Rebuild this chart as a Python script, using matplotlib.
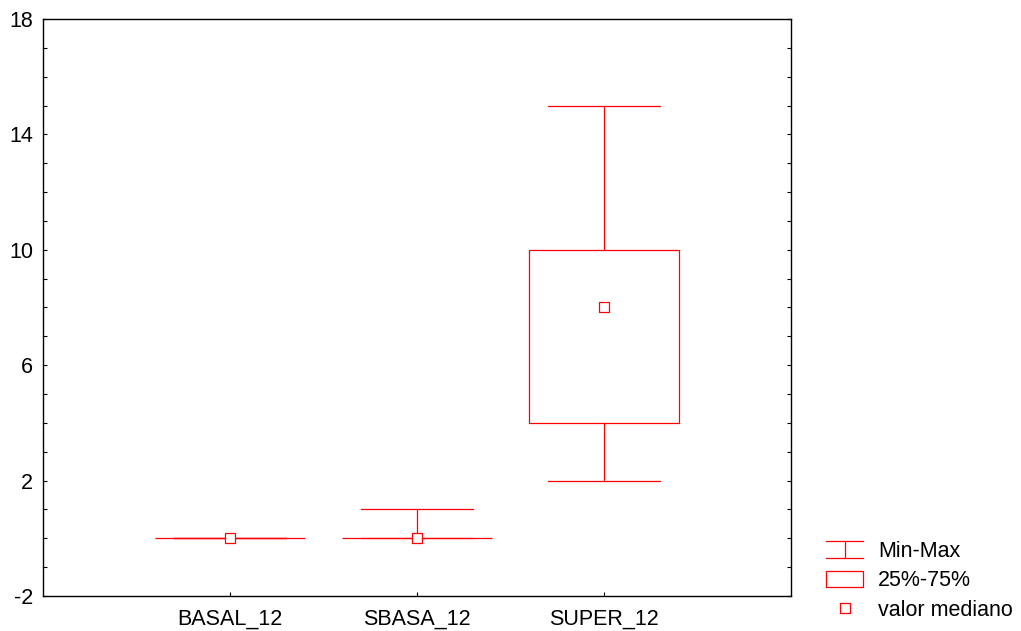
import numpy as np
import matplotlib.pyplot as plt
from matplotlib.legend_handler import HandlerBase
from matplotlib.lines import Line2D
from matplotlib.patches import Rectangle

plt.rcParams['font.family'] = ['Liberation Sans', 'DejaVu Sans']
plt.rcParams['axes.unicode_minus'] = False

# summary stats per variable
names = ["BASAL_12", "SBASA_12", "SUPER_12"]
mins = [0, 0, 2]
q25 = [0, 0, 4]
medians = [0, 0, 8]
q75 = [0, 0, 10]
maxs = [0, 1, 15]

red = "#ff0000"
lw = 0.9
box_w = 0.8
cap_w = 0.6
fs = 15.5

fig = plt.figure(figsize=(10.21, 6.31), dpi=100)
ax = fig.add_axes([43 / 1021, 35 / 631, 748 / 1021, 577 / 631])

x = np.arange(1, len(names) + 1)
for xi, lo, a, m, b, hi in zip(x, mins, q25, medians, q75, maxs):
    # whiskers and caps
    ax.plot([xi, xi], [lo, a], color=red, lw=lw)
    ax.plot([xi, xi], [b, hi], color=red, lw=lw)
    ax.plot([xi - cap_w / 2, xi + cap_w / 2], [lo, lo], color=red, lw=lw)
    ax.plot([xi - cap_w / 2, xi + cap_w / 2], [hi, hi], color=red, lw=lw)
    # box
    ax.add_patch(Rectangle((xi - box_w / 2, a), box_w, b - a,
                           fill=False, edgecolor=red, lw=lw))
    # median
    ax.plot(xi, m, marker="s", ms=6.5, mfc="white", mec=red, mew=lw,
            zorder=5)

ax.set_xlim(0, 4)
ax.set_ylim(-2, 18)
ax.set_xticks(x)
ax.set_xticklabels(names)
ax.set_yticks(np.arange(-2, 19, 4))
ax.set_yticks(np.arange(-2, 19, 1), minor=True)
ax.tick_params(axis="both", which="both", direction="in", labelsize=fs,
               length=3, width=0.8)
ax.tick_params(axis="x", pad=9)
ax.tick_params(axis="y", pad=7)
ax.tick_params(axis="y", which="both", right=True)
ax.tick_params(axis="y", which="minor", labelleft=False)
for s in ax.spines.values():
    s.set_linewidth(1.0)


class MinMaxHandler(HandlerBase):
    def create_artists(self, legend, orig, xd, yd, w, h, fontsize, trans):
        x0, x1 = -xd, -xd + w
        xm = (x0 + x1) / 2
        y0, y1 = -yd - 0.05 * h, -yd + 1.05 * h
        arts = [Line2D([x0, x1], [y0, y0]), Line2D([x0, x1], [y1, y1]),
                Line2D([xm, xm], [y0, y1])]
        for a in arts:
            a.set_color(red)
            a.set_linewidth(lw)
            a.set_transform(trans)
        return arts


class BoxHandler(HandlerBase):
    def create_artists(self, legend, orig, xd, yd, w, h, fontsize, trans):
        r = Rectangle((-xd, -yd - 0.05 * h), w, 1.1 * h, fill=False,
                      edgecolor=red, lw=lw, transform=trans)
        return [r]


mm = Line2D([], [])
bx = Rectangle((0, 0), 1, 1)
md = Line2D([], [], ls="none", marker="s", ms=6.5, mfc="white", mec=red,
            mew=lw)
fig.legend([mm, bx, md], ["Min-Max", "25%-75%", "valor mediano"],
           handler_map={mm: MinMaxHandler(), bx: BoxHandler()},
           loc="lower left", bbox_to_anchor=(826 / 1021, 10 / 631),
           borderpad=0, borderaxespad=0, frameon=False, fontsize=fs,
           handlelength=1.72, handletextpad=0.7, labelspacing=0.4)

fig.savefig("out.png", dpi=100)
